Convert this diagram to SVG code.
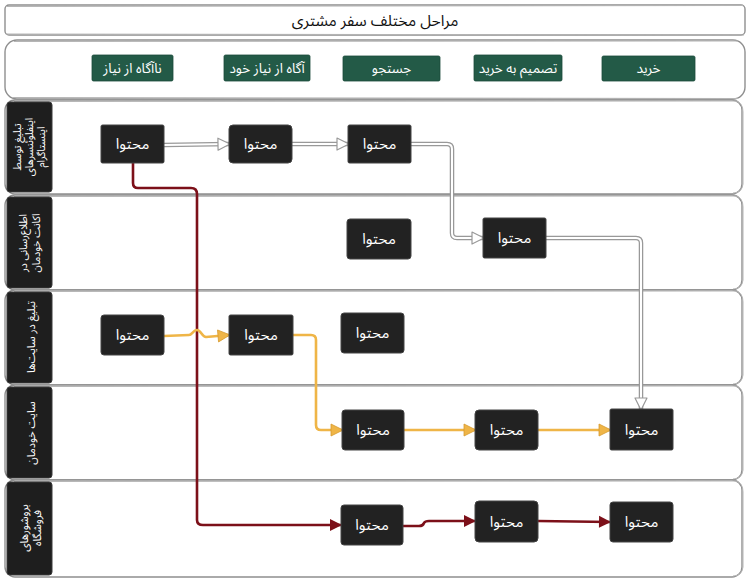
<svg xmlns="http://www.w3.org/2000/svg" width="750" height="581" viewBox="0 0 750 581">
<defs>
<style>
text{font-family:'Noto Sans Arabic','DejaVu Sans',sans-serif;}
.frame{fill:#fff;stroke:#8f8f8f;stroke-width:1.4;}
.frame2{fill:none;stroke:#b5b5b5;stroke-width:1;}
.hdr{fill:#1e1e1e;stroke:#3a3a3a;stroke-width:1;}
.hdrt{fill:#fff;font-size:10.5px;text-anchor:middle;dominant-baseline:central;}
.stage{fill:#235a47;stroke:#1b4a3a;stroke-width:0.8;}
.staget{fill:#fff;font-size:13.5px;text-anchor:middle;dominant-baseline:central;}
.node{fill:#222;stroke:#444;stroke-width:1;}
.nodet{fill:#fff;font-size:15px;text-anchor:middle;dominant-baseline:central;}
.wout{fill:none;stroke:#999;stroke-width:4.5;stroke-linejoin:round;}
.win{fill:none;stroke:#fff;stroke-width:2;stroke-linejoin:round;marker-end:url(#ah-w);}
.yel{fill:none;stroke:#efb547;stroke-width:2.6;stroke-linejoin:round;marker-end:url(#ah-y);}
.red{fill:none;stroke:#7c1019;stroke-width:2.6;stroke-linejoin:round;marker-end:url(#ah-r);}
</style>
<marker id="ah-w" markerUnits="userSpaceOnUse" markerWidth="16" markerHeight="16" viewBox="-2 -2 16 16" refX="11" refY="6" orient="auto" overflow="visible">
<polygon points="0,0 12,6 0,12" fill="#fff" stroke="#999" stroke-width="1.2" stroke-linejoin="round"/>
</marker>
<marker id="ah-y" markerUnits="userSpaceOnUse" markerWidth="16" markerHeight="16" viewBox="-2 -2 16 16" refX="11" refY="6" orient="auto" overflow="visible">
<polygon points="0,0 12,6 0,12" fill="#efb547" stroke="#d79b2f" stroke-width="0.8"/>
</marker>
<marker id="ah-r" markerUnits="userSpaceOnUse" markerWidth="16" markerHeight="16" viewBox="-2 -2 16 16" refX="11" refY="6" orient="auto" overflow="visible">
<polygon points="0,0 12,6 0,12" fill="#7c1019"/>
</marker>
</defs>
<rect width="750" height="581" fill="#fff"/>

<g id="title">
<rect class="frame" x="5" y="5" width="740" height="30" rx="4"/>
<path class="frame2" d="M7,6.5 L743,5.5 M6,34 L744,35"/>
<text x="375" y="21" style="font-size:15.5px;fill:#111;text-anchor:middle;dominant-baseline:central;">مراحل مختلف سفر مشتری</text>
</g>

<g id="stages">
<rect class="frame" x="5" y="40" width="740" height="59" rx="12"/>
<path class="frame2" d="M14,41.5 L738,41 M12,97.5 L738,98.5"/>
<g id="stage-1"><rect class="stage" x="92" y="55" width="81" height="26" rx="1.5"/><text class="staget" x="132.5" y="68">ناآگاه از نیاز</text></g>
<g id="stage-2"><rect class="stage" x="224" y="55" width="86" height="26" rx="1.5"/><text class="staget" x="267" y="68">آگاه از نیاز خود</text></g>
<g id="stage-3"><rect class="stage" x="343" y="56" width="97" height="25" rx="1.5"/><text class="staget" x="391.5" y="68.5">جستجو</text></g>
<g id="stage-4"><rect class="stage" x="474" y="55" width="88" height="26" rx="1.5"/><text class="staget" x="518" y="68">تصمیم به خرید</text></g>
<g id="stage-5"><rect class="stage" x="602" y="56" width="93" height="25" rx="1.5"/><text class="staget" x="648.5" y="68.5">خرید</text></g>
</g>

<g id="lanes">
<g id="lane-1">
<rect class="frame" x="5" y="100" width="737" height="94" rx="10"/>
<path class="frame2" d="M14,101.5 L736,101 Q743,103 743,112 L743,184 Q742,193 733,193"/>
<rect class="hdr" x="7" y="102" width="45" height="90" rx="3"/>
<g transform="translate(30,147) rotate(-90)"><text class="hdrt"><tspan x="0" y="-12">تبلیغ توسط</tspan><tspan x="0" y="0">اینفلوئنسرهای</tspan><tspan x="0" y="12">اینستاگرام</tspan></text></g>
</g>
<g id="lane-2">
<rect class="frame" x="5" y="195" width="737" height="95" rx="10"/>
<path class="frame2" d="M14,196.5 L736,196 Q743,198 743,207 L743,280 Q742,289 733,289"/>
<rect class="hdr" x="7" y="197" width="45" height="91" rx="3"/>
<g transform="translate(30,243) rotate(-90)"><text class="hdrt"><tspan x="0" y="-6">اطلاع‌رسانی در</tspan><tspan x="0" y="7">اکانت خودمان</tspan></text></g>
</g>
<g id="lane-3">
<rect class="frame" x="5" y="290" width="737" height="95" rx="10"/>
<path class="frame2" d="M14,291.5 L736,291 Q743,293 743,302 L743,375 Q742,384 733,384"/>
<rect class="hdr" x="7" y="292" width="45" height="91" rx="3"/>
<g transform="translate(31,337) rotate(-90)"><text class="hdrt" style="font-size:11px">تبلیغ در سایت‌ها</text></g>
</g>
<g id="lane-4">
<rect class="frame" x="5" y="385" width="737" height="95" rx="10"/>
<path class="frame2" d="M14,386.5 L736,386 Q743,388 743,397 L743,470 Q742,479 733,479"/>
<rect class="hdr" x="7" y="387" width="45" height="91" rx="3"/>
<g transform="translate(31,433) rotate(-90)"><text class="hdrt" style="font-size:11px">سایت خودمان</text></g>
</g>
<g id="lane-5">
<rect class="frame" x="5" y="480" width="737" height="97" rx="10"/>
<path class="frame2" d="M14,481.5 L736,481 Q743,483 743,492 L743,567 Q742,576 733,576"/>
<rect class="hdr" x="7" y="482" width="45" height="93" rx="3"/>
<g transform="translate(30,528) rotate(-90)"><text class="hdrt" style="font-size:11px"><tspan x="0" y="-6">بروشورهای</tspan><tspan x="0" y="7">فروشگاه</tspan></text></g>
</g>
</g>

<g id="connectors">
<path class="wout" d="M164,145 L229,144"/>
<path class="win" d="M164,145 L229,144"/>
<path class="wout" d="M292,144 L348,144"/>
<path class="win" d="M292,144 L348,144"/>
<path class="wout" d="M411,144 L447,144 Q452,144 452,149 L452,233 Q452,238 457,238 L483,238"/>
<path class="win" d="M411,144 L447,144 Q452,144 452,149 L452,233 Q452,238 457,238 L483,238"/>
<path class="wout" d="M546,238 L636,238 Q641,238 641,243 L641,409"/>
<path class="win" d="M546,238 L636,238 Q641,238 641,243 L641,409"/>

<path class="red" d="M133,163 L133,183 Q133,188 138,188 L191,188 Q197,188 197,194 L197,520 Q197,525 203,525 L341,525"/>
<path class="red" d="M403,526 L419,526 Q423,526 424,523 Q425,521 429,521 L475,521"/>
<path class="red" d="M538,521 L610,522"/>

<path class="yel" d="M164,336 L189,335 C192,335 193,330 197,330 C201,330 202,337 206,337 L229,335"/>
<path class="yel" d="M293,335 L311,335 Q316,335 316,340 L316,425 Q316,430 321,430 L342,430"/>
<path class="yel" d="M404,430 L475,430"/>
<path class="yel" d="M538,430 L610,430"/>
</g>

<g id="nodes">
<g id="n-a1"><rect class="node" x="101" y="125" width="63" height="38" rx="1.5"/><text class="nodet" x="132.5" y="144">محتوا</text></g>
<g id="n-a2"><rect class="node" x="229" y="125" width="63" height="38" rx="4"/><text class="nodet" x="260.5" y="144">محتوا</text></g>
<g id="n-a3"><rect class="node" x="348" y="125" width="63" height="38" rx="1.5"/><text class="nodet" x="379.5" y="144">محتوا</text></g>
<g id="n-b1"><rect class="node" x="347" y="219" width="64" height="40" rx="3"/><text class="nodet" x="379" y="239">محتوا</text></g>
<g id="n-b2"><rect class="node" x="483" y="218" width="63" height="40" rx="1.5"/><text class="nodet" x="514.5" y="238">محتوا</text></g>
<g id="n-c1"><rect class="node" x="101" y="315" width="63" height="40" rx="3"/><text class="nodet" x="132.5" y="335">محتوا</text></g>
<g id="n-c2"><rect class="node" x="229" y="315" width="64" height="40" rx="1.5"/><text class="nodet" x="261" y="335">محتوا</text></g>
<g id="n-c3"><rect class="node" x="341" y="313" width="63" height="40" rx="3"/><text class="nodet" x="372.5" y="333">محتوا</text></g>
<g id="n-d1"><rect class="node" x="342" y="410" width="62" height="40" rx="3"/><text class="nodet" x="373" y="430">محتوا</text></g>
<g id="n-d2"><rect class="node" x="475" y="410" width="63" height="40" rx="4"/><text class="nodet" x="506.5" y="430">محتوا</text></g>
<g id="n-d3"><rect class="node" x="610" y="409" width="63" height="41" rx="1.5"/><text class="nodet" x="641.5" y="429.5">محتوا</text></g>
<g id="n-e1"><rect class="node" x="341" y="505" width="62" height="40" rx="3"/><text class="nodet" x="372" y="525">محتوا</text></g>
<g id="n-e2"><rect class="node" x="475" y="501" width="63" height="41" rx="4"/><text class="nodet" x="506.5" y="521.5">محتوا</text></g>
<g id="n-e3"><rect class="node" x="610" y="502" width="63" height="40" rx="3"/><text class="nodet" x="641.5" y="522">محتوا</text></g>
</g>
</svg>
